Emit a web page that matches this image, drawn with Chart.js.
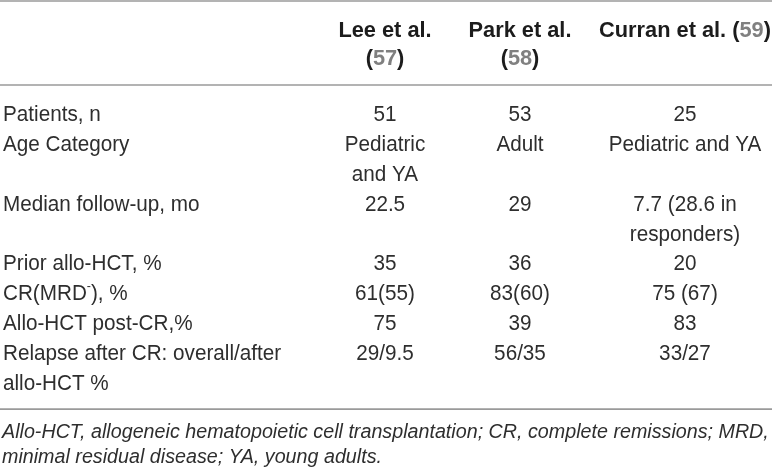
<!DOCTYPE html>
<html>
<head>
<meta charset="utf-8">
<script src="https://cdn.jsdelivr.net/npm/chart.js@4.4.1/dist/chart.umd.min.js"></script>
<style>
  html, body { margin: 0; padding: 0; background: #ffffff; }
  #wrap { width: 772px; height: 470px; }
</style>
</head>
<body>
<div id="wrap"><canvas id="c" width="772" height="470"></canvas></div>
<script>
// ---------------- data ----------------
const studyNames = ['Lee et al.', 'Park et al.', 'Curran et al.'];
const studyRefs = ['57', '58', '59'];
const rowLabels = [
  'Patients, n',
  'Age Category',
  'Median follow-up, mo',
  'Prior allo-HCT, %',
  'CR(MRD\u207B), %',
  'Allo-HCT post-CR,%',
  'Relapse after CR: overall/after allo-HCT %'
];
const leeValues = ['51', 'Pediatric and YA', '22.5', '35', '61(55)', '75', '29/9.5'];
const parkValues = ['53', 'Adult', '29', '36', '83(60)', '39', '56/35'];
const curranValues = ['25', 'Pediatric and YA', '7.7 (28.6 in responders)', '20', '75 (67)', '83', '33/27'];
const footnoteText = 'Allo-HCT, allogeneic hematopoietic cell transplantation; CR, complete remissions; MRD, minimal residual disease; YA, young adults.';

// ---------------- layout & style ----------------
const W = 772, H = 470;
const FAMILY = '"Liberation Sans", Arial, Helvetica, sans-serif';
const STYLE = {
  body: { size: 22, weight: '400', style: 'normal', sx: 0.94, color: '#2e2e2e' },
  head: { size: 22, weight: '700', style: 'normal', sx: 0.99, color: '#1c1c1c' },
  note: { size: 20.5, weight: '400', style: 'italic', sx: 0.961, color: '#2e2e2e' },
  refColor: '#808080',
  ruleColor: '#9a9a9a',
  ruleWidth: 1.6
};
const GRID = {
  colX: [3, 385, 520, 685],
  colAlign: ['left', 'center', 'center', 'center'],
  colMaxW: [295, 112, 112, 185],
  topRule: 1,
  headFirst: 29, headLineH: 28,
  headRule: 85,
  bodyFirst: 113, bodyLineH: 29.9,
  bodyRuleGap: 27,
  noteGap: 22, noteLineH: 25,
  noteX: 2, noteMaxW: 771
};

function fontOf(s, size) { return `${s.style} ${s.weight} ${size || s.size}px ${FAMILY}`; }
const mctx = document.createElement('canvas').getContext('2d');
function measure(s, text) { mctx.font = fontOf(s); return mctx.measureText(text).width * s.sx; }
function wrap(s, text, maxW) {
  const words = text.split(' ');
  const lines = [];
  let cur = '';
  for (const w of words) {
    const test = cur ? cur + ' ' + w : w;
    if (cur && measure(s, test) > maxW) { lines.push(cur); cur = w; } else { cur = test; }
  }
  if (cur) lines.push(cur);
  return lines;
}

// ---------------- build cells ----------------
const columns = [rowLabels, leeValues, parkValues, curranValues];
const headerTexts = studyNames.map((n, i) => `${n} (${studyRefs[i]})`);

const textDatasets = [];
const headPts = [], headCells = [];
headerTexts.forEach((t, i) => {
  const lines = wrap(STYLE.head, t, GRID.colMaxW[i + 1]);
  headPts.push({ x: GRID.colX[i + 1], y: GRID.headFirst });
  headCells.push({ lines, align: 'center' });
});
textDatasets.push({ label: 'header', data: headPts, cells: headCells, textStyle: 'head', lineStep: GRID.headLineH });

const wrapped = columns.map((col, c) => col.map(t => wrap(STYLE.body, t, GRID.colMaxW[c])));
const rowStarts = [];
let cum = 0;
rowLabels.forEach((_, r) => {
  rowStarts.push(cum);
  cum += Math.max(...wrapped.map(col => col[r].length));
});
const lastLineY = GRID.bodyFirst + (cum - 1) * GRID.bodyLineH;
columns.forEach((col, c) => {
  textDatasets.push({
    label: c === 0 ? 'labels' : studyNames[c - 1],
    data: col.map((_, r) => ({ x: GRID.colX[c], y: GRID.bodyFirst + rowStarts[r] * GRID.bodyLineH })),
    cells: wrapped[c].map(lines => ({ lines, align: GRID.colAlign[c] })),
    textStyle: 'body', lineStep: GRID.bodyLineH
  });
});

const bottomRule = lastLineY + GRID.bodyRuleGap;
const ruleYs = [GRID.topRule, GRID.headRule, bottomRule];
const ruleDatasets = ruleYs.map((y, i) => ({
  label: 'rule' + i,
  data: [{ x: 0, y }, { x: W, y }],
  showLine: true, pointRadius: 0, borderColor: STYLE.ruleColor, borderWidth: STYLE.ruleWidth, clip: false
}));

const noteLines = wrap(STYLE.note, footnoteText, GRID.noteMaxW);
textDatasets.push({
  label: 'footnote',
  data: [{ x: GRID.noteX, y: bottomRule + GRID.noteGap }],
  cells: [{ lines: noteLines, align: 'left' }],
  textStyle: 'note', lineStep: GRID.noteLineH
});
textDatasets.forEach(d => { d.pointRadius = 0; d.showLine = false; d.clip = false; });

// ---------------- rich text drawing ----------------
function tokens(text, styleKey, s) {
  const out = [];
  if (styleKey === 'head') {
    text.split(/(\d+)/).forEach((t, i) => { if (t) out.push({ t, color: i % 2 ? STYLE.refColor : s.color }); });
  } else {
    text.split('\u207B').forEach((t, i) => {
      if (i > 0) out.push({ t: '-', color: s.color, sup: true });
      if (t) out.push({ t, color: s.color });
    });
  }
  return out;
}
function drawRich(ctx, text, x, cy, styleKey, align) {
  const s = STYLE[styleKey];
  const toks = tokens(text, styleKey, s);
  let total = 0;
  toks.forEach(tk => {
    ctx.font = fontOf(s, tk.sup ? s.size * 0.6 : s.size);
    tk.w = ctx.measureText(tk.t).width;
    total += tk.w;
  });
  const startX = align === 'center' ? x - total * s.sx / 2 : x;
  const base = cy + 0.36 * s.size;
  ctx.save();
  ctx.translate(startX, base);
  ctx.scale(s.sx, 1);
  ctx.textAlign = 'left';
  ctx.textBaseline = 'alphabetic';
  let cx = 0;
  toks.forEach(tk => {
    ctx.font = fontOf(s, tk.sup ? s.size * 0.6 : s.size);
    ctx.fillStyle = tk.color;
    ctx.fillText(tk.t, cx, tk.sup ? -0.45 * s.size : 0);
    cx += tk.w;
  });
  ctx.restore();
}

const tableText = {
  id: 'tableText',
  afterDatasetsDraw(chart) {
    const ctx = chart.ctx;
    chart.data.datasets.forEach((ds, i) => {
      if (!ds.cells) return;
      const meta = chart.getDatasetMeta(i);
      meta.data.forEach((el, j) => {
        const cell = ds.cells[j];
        cell.lines.forEach((line, k) => {
          drawRich(ctx, line, el.x, el.y + k * ds.lineStep, ds.textStyle, cell.align);
        });
      });
    });
  }
};

new Chart(document.getElementById('c'), {
  type: 'scatter',
  data: { datasets: [...ruleDatasets, ...textDatasets] },
  options: {
    responsive: false,
    animation: false,
    events: [],
    layout: { padding: 0 },
    scales: {
      x: { type: 'linear', min: 0, max: W, display: false },
      y: { type: 'linear', min: 0, max: H, reverse: true, display: false }
    },
    plugins: { legend: { display: false }, tooltip: { enabled: false } }
  },
  plugins: [tableText]
});
</script>
</body>
</html>
